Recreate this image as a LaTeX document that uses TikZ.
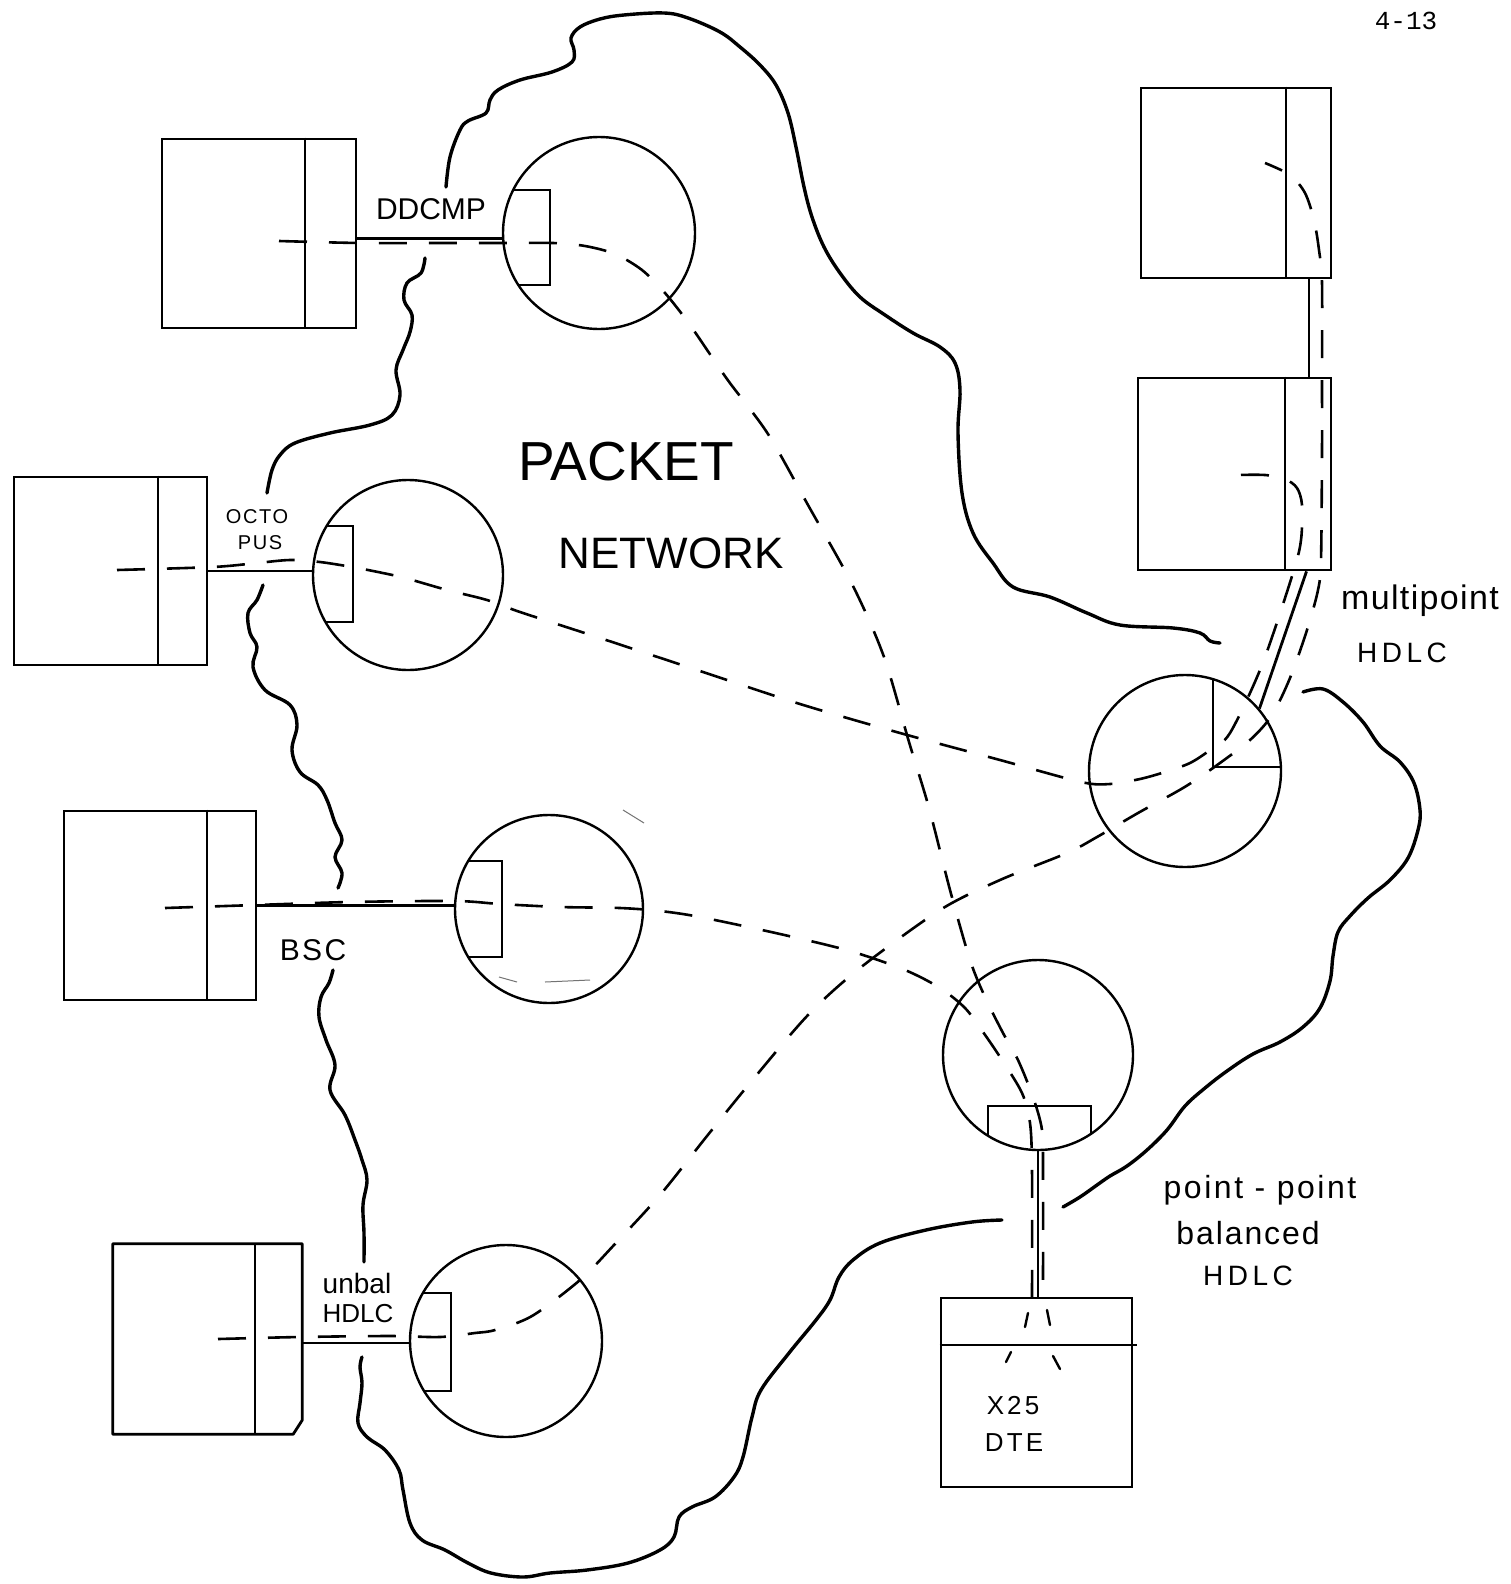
\documentclass[tikz,border=0pt]{standalone}
\usepackage{fontspec}
\setmainfont{Liberation Sans}
\newfontfamily\typew{Liberation Mono}
\begin{document}
\begin{tikzpicture}[x=1pt,y=-1pt,
  box/.style={draw, rectangle, line width=2.8pt, inner sep=0pt},
  divider/.style={line width=2.4pt},
  ncirc/.style={draw, circle, line width=2.4pt, inner sep=0pt},
  link/.style={line width=2.8pt},
  inner/.style={line width=2.4pt},
  cloudline/.style={line width=3.4pt, line cap=round, line join=round},
  dline/.style={line width=2.6pt, dash pattern=on 28pt off 22pt},
  sdash/.style={line width=2.4pt, line cap=round},
  faint/.style={line width=1pt, black!55},
  lbl/.style={inner sep=0pt, anchor=center}
]
\useasboundingbox (0,0) rectangle (1510,1584);
\fill[white] (0,0) rectangle (1510,1584);

% ---------------- boxes (hosts) ----------------
\node[box, minimum width=194pt, minimum height=189pt] (b1) at (259,233.5) {};
\node[box, minimum width=193pt, minimum height=188pt] (b2) at (110.5,571) {};
\node[box, minimum width=192pt, minimum height=189pt] (b3) at (160,905.5) {};
\node[minimum width=189pt, minimum height=190pt, inner sep=0pt] (b5) at (207.5,1339) {};
\node[box, minimum width=190pt, minimum height=190pt] (r1) at (1236,183) {};
\node[box, minimum width=193pt, minimum height=192pt] (r2) at (1234.5,474) {};
\node[box, minimum width=191pt, minimum height=189pt] (dte) at (1036.5,1392.5) {};

\draw[line width=2.8pt, line join=round] (b5.north west) -- (b5.north east) -- ([yshift=14pt]b5.south east)
  -- ([xshift=-9pt]b5.south east) -- (b5.south west) -- cycle;

\draw[divider] ([xshift=46pt]b1.north) -- ([xshift=46pt]b1.south);
\draw[divider] ([xshift=47.5pt]b2.north) -- ([xshift=47.5pt]b2.south);
\draw[divider] ([xshift=47pt]b3.north) -- ([xshift=47pt]b3.south);
\draw[divider] ([xshift=47.5pt]b5.north) -- ([xshift=47.5pt]b5.south);
\draw[divider] ([xshift=50pt]r1.north) -- ([xshift=50pt]r1.south);
\draw[divider] ([xshift=50.5pt]r2.north) -- ([xshift=50.5pt]r2.south);
\draw[divider] ([yshift=47.5pt]dte.west) -- ([yshift=47.5pt,xshift=4pt]dte.east);

% ---------------- circles (network nodes) ----------------
\node[ncirc, minimum size=192pt] (c1) at (599,233) {};
\node[ncirc, minimum size=190pt] (c2) at (408,575) {};
\node[ncirc, minimum size=188pt] (c3) at (549,909) {};
\node[ncirc, minimum size=192pt] (c4) at (1185,771) {};
\node[ncirc, minimum size=192pt] (c5) at (506,1341) {};
\node[ncirc, minimum size=190pt] (c6) at (1038,1055) {};

% interface boxes inside circles
\draw[inner] (513,190) -- (550,190) -- (550,285) -- (518,285);
\draw[inner] (327,526) -- (353,526) -- (353,622) -- (325,622);
\draw[inner] (468,861) -- (502,861) -- (502,957) -- (468,957);
\draw[inner] (424,1293) -- (451,1293) -- (451,1391) -- (425,1391);
\draw[inner] (988,1136) -- (988,1106) -- (1091,1106) -- (1091,1134);
\draw[inner] (1213,680) -- (1213,767) -- (1280,767);

% ---------------- solid links ----------------
\draw[link] ([yshift=-5pt]b1.east) -- ([yshift=-5pt]b1.east -| c1.west);
\draw[link] (b2.east) -- (b2.east -| c2.west);
\draw[link] (b3.east) -- (b3.east -| c3.west);
\draw[link] ([yshift=-4pt]b5.east) -- ([yshift=-4pt]b5.east -| c5.west);
\draw[link] (c6.south) -- (dte.north -| c6.south);
\draw[link] (c4.40) -- ([xshift=72pt]r2.south);
\draw[link] ([xshift=73pt]r1.south) -- ([xshift=73pt]r1.south |- r2.north);

% ---------------- dashed virtual circuits ----------------
% DDCMP host -> X.25 DTE
\draw[dline] plot[smooth, tension=0.5] coordinates {(279,241) (360,243) (450,243) (503,243) (553,243)
  (585,246) (615,254) (642,270) (665,293) (690,325) (727,379) (768,434) (808,505) (853,586)
  (884,657) (909,742) (929,808) (950,890) (970,960) (985,997) (1003,1033) (1018,1060)
  (1033,1097) (1042,1130) (1043,1170) (1043,1298)};
% BSC host -> X.25 DTE
\draw[dline] plot[smooth, tension=0.5] coordinates {(165,908) (256,905) (350,902) (455,901)
  (500,904) (560,907) (620,908) (660,911) (700,917) (780,934) (850,951) (905,970) (940,988)
  (965,1008) (983,1032) (1002,1060) (1022,1093) (1030,1123) (1032,1170) (1032,1298)};
% OCTOPUS host -> multipoint host (lower right box)
\draw[dline] plot[smooth, tension=0.5] coordinates {(117,570) (213,567) (257,563) (290,560)
  (320,562) (352,567) (378,572) (405,578) (447,590) (487,600) (520,612) (600,638) (700,671)
  (800,704) (900,733) (1000,760) (1081,782) (1110,784) (1140,779) (1165,772) (1190,763)
  (1210,750) (1230,733) (1262,665) (1293,573) (1301,540) (1302,505) (1297,488) (1285,479)
  (1265,475) (1237,475)};
% unbal HDLC host -> multipoint host (upper right box)
\draw[dline] plot[smooth, tension=0.5] coordinates {(218,1339) (300,1337) (390,1336) (440,1337)
  (475,1333) (495,1330) (532,1316) (580,1280) (614,1245) (660,1195) (707,1136) (750,1083)
  (808,1015) (860,968) (940,910) (1000,880) (1067,853) (1097,837) (1138,813) (1183,788)
  (1213,768) (1250,740) (1272,715) (1290,678) (1307,630) (1318,590) (1321,560) (1322,450)
  (1322,380) (1322,283) (1319,250) (1314,220) (1305,193) (1290,175) (1265,163)};
% ends inside the X.25 DTE
\draw[sdash] (1028,1313) -- (1025,1327);
\draw[sdash] (1047,1310) -- (1050,1325);
\draw[sdash] (1011,1352) -- (1006,1362);
\draw[sdash] (1053,1356) -- (1060,1369);

% faint pencil marks
\draw[faint] (623,810) -- (644,823);
\draw[faint] (499,977) -- (517,982);
\draw[faint] (545,982) -- (590,980);

% ---------------- cloud outline ----------------
\draw[cloudline] plot[smooth, tension=0.6] coordinates {(446,187) (450,157) (460,130) (468,121)
  (486,113) (490,100) (498,90) (520,80) (552,72) (572,62) (574,50) (571,38) (580,27) (600,19)
  (624,15) (664,13) (688,18) (720,32) (740,47) (760,65) (776,85) (788,113) (796,147) (804,187)
  (812,217) (824,247) (840,273) (860,297) (885,315) (913,333) (940,347) (955,363) (960,390)
  (958,433) (962,493) (973,533) (993,563) (1013,587) (1050,597) (1087,613) (1120,625)
  (1173,628) (1200,633) (1210,641) (1220,643)};
\draw[cloudline] plot[smooth, tension=0.6] coordinates {(1303,692) (1323,689) (1343,702)
  (1363,722) (1380,746) (1400,762) (1414,783) (1420,810) (1418,830) (1408,858) (1390,880)
  (1368,898) (1350,916) (1338,932) (1333,956) (1330,981) (1320,1008) (1303,1027) (1280,1042)
  (1253,1054) (1227,1071) (1205,1088) (1185,1106) (1167,1130) (1147,1150) (1127,1166)
  (1110,1176) (1097,1185) (1080,1197) (1063,1207)};
\draw[cloudline] plot[smooth, tension=0.6] coordinates {(1002,1220) (972,1222) (926,1230)
  (880,1243) (853,1260) (839,1277) (830,1300) (816,1320) (789,1353) (761,1390) (752,1417)
  (743,1457) (734,1477) (715,1497) (692,1507) (679,1517) (674,1537) (660,1550) (628,1563)
  (587,1570) (550,1573) (523,1577) (491,1573) (468,1563) (445,1550) (422,1540) (410,1523)
  (403,1490) (399,1470) (385,1450) (367,1437) (358,1423) (360,1403) (362,1383) (360,1367)
  (362,1357)};
\draw[cloudline] plot[smooth, tension=0.6] coordinates {(333,970) (329,983) (321,997) (319,1017)
  (326,1040) (335,1065) (330,1090) (345,1115) (355,1140) (362,1160) (367,1180) (363,1205)
  (364,1233) (364,1262)};
\draw[cloudline] plot[smooth, tension=0.6] coordinates {(263,585) (257,600) (248,613) (250,633)
  (257,647) (253,667) (265,690) (290,705) (297,725) (292,750) (300,772) (318,785) (327,800)
  (335,823) (342,840) (335,857) (342,873) (338,888)};
\draw[cloudline] plot[smooth, tension=0.6] coordinates {(425,258) (421,273) (407,283) (404,300)
  (412,315) (410,332) (403,350) (396,370) (400,395) (392,415) (370,425) (330,433) (295,443)
  (280,455) (272,470) (267,493)};

% ---------------- labels ----------------
\node[lbl, font=\fontsize{30}{30}\selectfont] (tddcmp) at (431,209) {DDCMP};
\node[lbl, font=\fontsize{20}{20}\selectfont\addfontfeature{LetterSpace=8}] (tocto) at (257,517) {OCTO};
\node[lbl, font=\fontsize{20}{20}\selectfont\addfontfeature{LetterSpace=8}] (tpus) at (260,543) {PUS};
\node[lbl, font=\fontsize{55}{55}\selectfont] (tpacket) at (626,462) {PACKET};
\node[lbl, font=\fontsize{44}{44}\selectfont] (tnet) at (671,553) {NETWORK};
\node[lbl, font=\fontsize{30}{30}\selectfont\addfontfeature{LetterSpace=8}] (tbsc) at (313,950) {BSC};
\node[lbl, font=\fontsize{28}{28}\selectfont] (tunbal) at (357,1283) {unbal};
\node[lbl, font=\fontsize{26}{26}\selectfont] (tuhdlc) at (358,1314) {HDLC};
\node[lbl, font=\fontsize{34}{34}\selectfont\addfontfeature{LetterSpace=4}] (tmulti) at (1420,601) {multipoint};
\node[lbl, font=\fontsize{28}{28}\selectfont\addfontfeature{LetterSpace=16}] (tmhdlc) at (1402,653) {HDLC};
\node[lbl, font=\fontsize{32}{32}\selectfont\addfontfeature{LetterSpace=8}] (tpp) at (1260,1190) {point - point};
\node[lbl, font=\fontsize{32}{32}\selectfont\addfontfeature{LetterSpace=6}] (tbal) at (1248,1233) {balanced};
\node[lbl, font=\fontsize{28}{28}\selectfont\addfontfeature{LetterSpace=16}] (tphdlc) at (1248,1276) {HDLC};
\node[lbl, font=\fontsize{26}{26}\selectfont\addfontfeature{LetterSpace=12}] (tx25) at (1013,1406) {X25};
\node[lbl, font=\fontsize{26}{26}\selectfont\addfontfeature{LetterSpace=12}] (tdte) at (1014,1443) {DTE};
\node[lbl, font=\typew\fontsize{26}{26}\selectfont] (tpage) at (1406,21) {4-13};
\end{tikzpicture}
\end{document}
